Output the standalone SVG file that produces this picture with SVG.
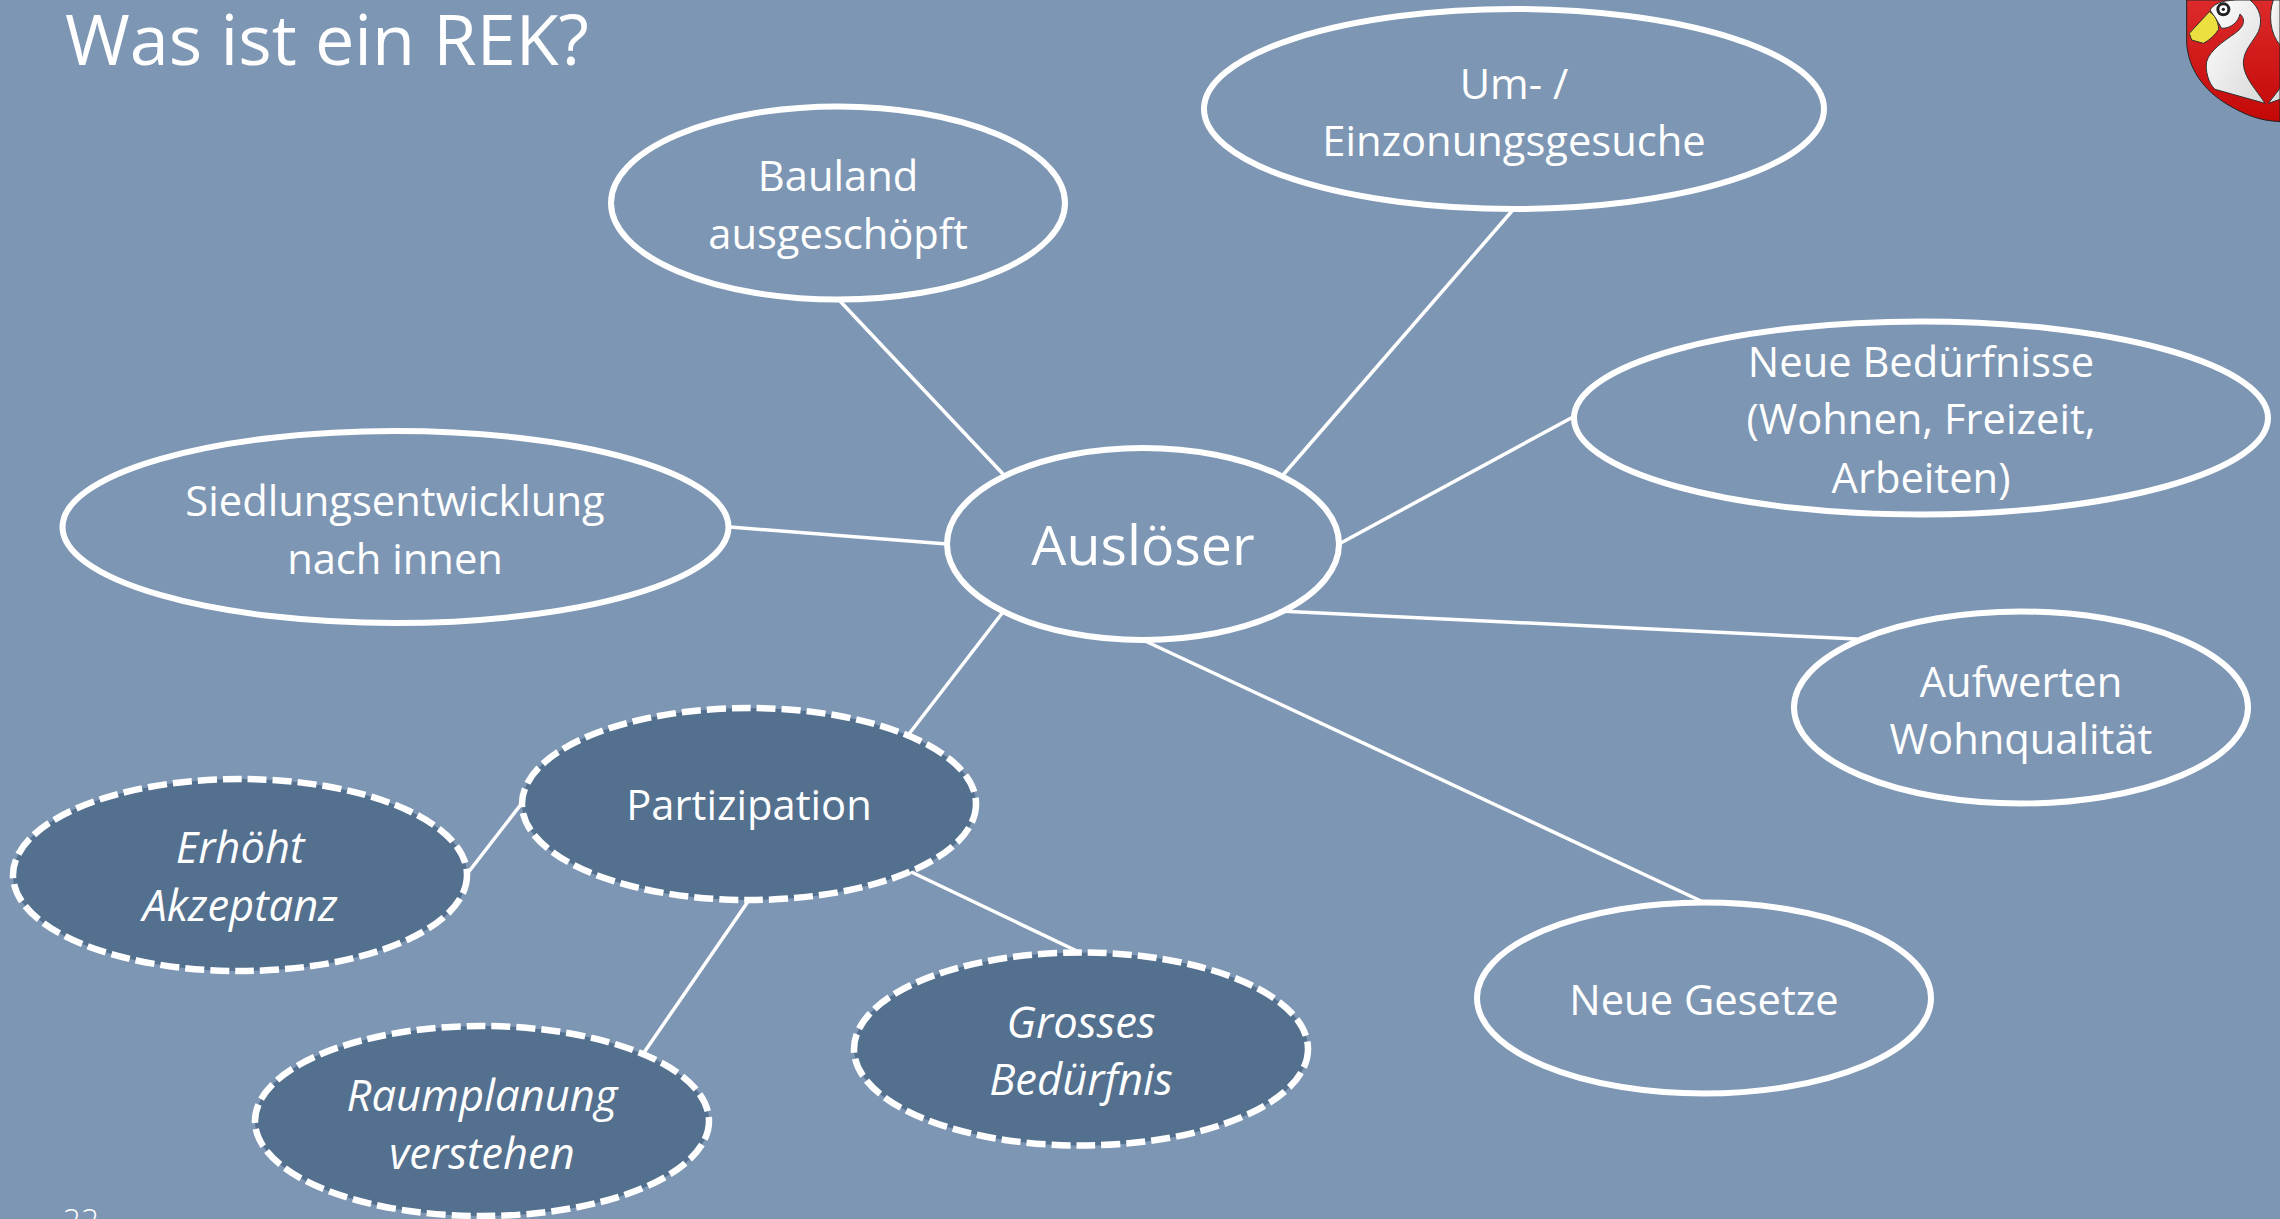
<svg xmlns="http://www.w3.org/2000/svg" width="2280" height="1219" viewBox="0 0 2280 1219">
<defs>
<linearGradient id="red" x1="0" y1="0" x2="0" y2="1"><stop offset="0" stop-color="#dc2a2a"/><stop offset="1" stop-color="#c40808"/></linearGradient>
<linearGradient id="wh" x1="0" y1="0" x2="1" y2="1"><stop offset="0" stop-color="#ffffff"/><stop offset="1" stop-color="#d8d8d8"/></linearGradient>
</defs>
<style>
.s{fill:none;stroke:#fff;stroke-width:6}
.d{fill:#54708f;stroke:#fff;stroke-width:6.5;stroke-dasharray:19 6}
.c{stroke:#fff;stroke-width:3.5;fill:none}
text{font-family:"Open Sans","Noto Sans","Liberation Sans",sans-serif;fill:#fff;text-anchor:middle;font-size:41.700px}
.i{font-style:italic;font-size:43.500px}
</style>
<rect width="2280" height="1219" fill="#7d96b3"/>
<text id="title" x="65" y="65" style="text-anchor:start;font-size:70.200px">Was ist ein REK?</text>
<text id="page" x="81" y="1231" style="font-size:32px;font-weight:300">22</text>
<g id="connectors" class="c">
<line x1="839" y1="300" x2="1003" y2="474"/>
<line x1="1512" y1="211" x2="1283" y2="475"/>
<line x1="1573" y1="417" x2="1339" y2="544"/>
<line x1="730" y1="527" x2="947" y2="544"/>
<line x1="1857" y1="639" x2="1279" y2="611"/>
<line x1="1701" y1="901" x2="1143" y2="640"/>
<line x1="909" y1="734" x2="1003" y2="612"/>
<line x1="467" y1="874" x2="522" y2="803"/>
<line x1="643" y1="1054" x2="749" y2="900"/>
<line x1="1079" y1="952" x2="905" y2="869"/>
</g>
<g id="n-ausloeser"><ellipse class="s" cx="1143" cy="544" rx="196" ry="96"/><text x="1143" y="565" style="font-size:55.500px">Auslöser</text></g>
<g id="n-bauland"><ellipse class="s" cx="838" cy="203" rx="227" ry="96.500"/><text x="838" y="190.500">Bauland</text><text x="838" y="248.500">ausgeschöpft</text></g>
<g id="n-einzonung"><ellipse class="s" cx="1514" cy="109" rx="310" ry="100"/><text x="1514" y="98.500">Um- /</text><text x="1514" y="155.500">Einzonungsgesuche</text></g>
<g id="n-beduerfnisse"><ellipse class="s" cx="1921" cy="418" rx="347" ry="96.500"/><text x="1921" y="376.500">Neue Bedürfnisse</text><text x="1921" y="433.500">(Wohnen, Freizeit,</text><text x="1921" y="492.500">Arbeiten)</text></g>
<g id="n-siedlung"><ellipse class="s" cx="395.500" cy="527" rx="333" ry="96"/><text x="395" y="515.500">Siedlungsentwicklung</text><text x="395" y="573.500">nach innen</text></g>
<g id="n-aufwerten"><ellipse class="s" cx="2021" cy="707.500" rx="227" ry="96"/><text x="2021" y="696.500">Aufwerten</text><text x="2021" y="753.500">Wohnqualität</text></g>
<g id="n-gesetze"><ellipse class="s" cx="1704" cy="998" rx="227" ry="95.500"/><text x="1704" y="1015">Neue Gesetze</text></g>
<g id="n-partizipation"><ellipse class="d" cx="749" cy="804" rx="227" ry="96"/><text x="749" y="819.500">Partizipation</text></g>
<g id="n-akzeptanz"><ellipse class="d" cx="240" cy="875" rx="227" ry="96"/><text class="i" x="240" y="862.500">Erhöht</text><text class="i" x="240" y="920.500">Akzeptanz</text></g>
<g id="n-raumplanung"><ellipse class="d" cx="482" cy="1121" rx="227" ry="95"/><text class="i" x="482" y="1110.500">Raumplanung</text><text class="i" x="482" y="1168.500">verstehen</text></g>
<g id="n-bedarf"><ellipse class="d" cx="1081" cy="1049" rx="227" ry="96.500"/><text class="i" x="1081" y="1037.500">Grosses</text><text class="i" x="1081" y="1094.500">Bedürfnis</text></g>
<g id="crest" transform="translate(2160 0) scale(.33333)">
<path d="M80,0 L80,130 C85,205 130,270 200,312 C250,342 295,362 360,365 L360,0Z" fill="url(#red)" stroke="#222" stroke-width="3"/>
<path d="M150,30 C165,5 200,0 240,0 L270,0 C300,25 310,60 295,95 C280,125 250,150 250,190 C252,235 290,270 315,310 L165,268 C145,250 135,210 140,185 C150,150 190,125 225,100 C250,82 260,60 240,42 C235,65 215,85 185,85 L170,60Z" fill="url(#wh)" stroke="#333" stroke-width="3"/>
<path d="M340,0 C325,45 330,100 360,135 L360,0Z M325,310 L360,265 L360,298Z" fill="url(#wh)" stroke="#333" stroke-width="3"/>
<path d="M148,35 L88,100 L95,120 L130,130 C150,120 165,105 176,88 C175,65 165,45 148,35Z" fill="#ece040" stroke="#333" stroke-width="3"/>
<circle cx="190" cy="28" r="21" fill="#222"/><circle cx="190" cy="28" r="12" fill="#fff"/><circle cx="190" cy="28" r="5" fill="#222"/>
</g>
</svg>
